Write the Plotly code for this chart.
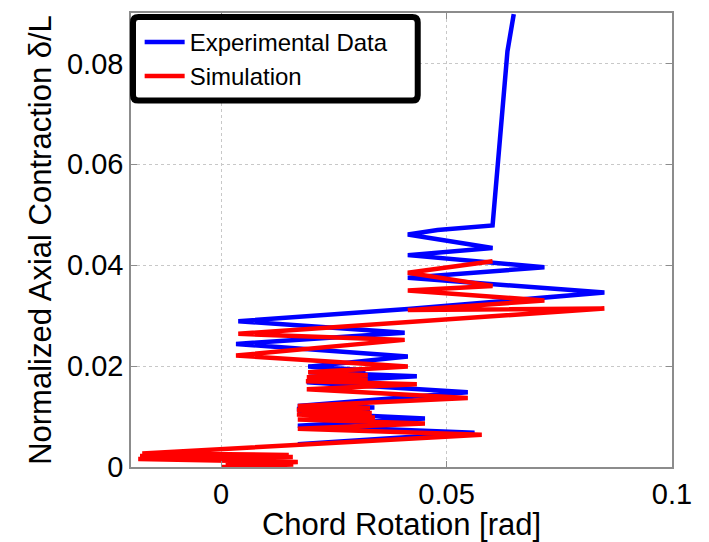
import plotly.graph_objects as go

# Experimental data (chord rotation [rad], normalized axial contraction)
exp_rotation = [0.0170, 0.0562, 0.0170, 0.0452, 0.0170, 0.0330, 0.0168, 0.0340,
                0.0170, 0.0547, 0.0190, 0.0434, 0.0195, 0.0320, 0.0193, 0.0414,
                0.0033, 0.0407, 0.0038, 0.0414, 0.0850, 0.0414, 0.0717, 0.0414,
                0.0602, 0.0414, 0.0480, 0.0602, 0.0635, 0.0649]
exp_contraction = [0.0045, 0.0068, 0.0082, 0.0096, 0.0108, 0.0110, 0.0115, 0.0118,
                   0.0121, 0.0148, 0.0168, 0.0180, 0.0188, 0.0192, 0.0199, 0.0219,
                   0.0244, 0.0266, 0.0289, 0.0313, 0.0346, 0.0375, 0.0396, 0.0420,
                   0.0434, 0.0461, 0.0470, 0.0479, 0.0824, 0.0898]

# Simulation
sim_rotation = [0.0, 0.0160, 0.0010, 0.0170, -0.0184, 0.0159, -0.0180, 0.0150, -0.0175,
                0.0578, 0.0170, 0.0452, 0.0170,
                0.0341, 0.0168, 0.0334, 0.0168, 0.0330, 0.0170, 0.0547, 0.0190,
                0.0434, 0.0188, 0.0325, 0.0190, 0.0325, 0.0193, 0.0414, 0.0033,
                0.0407, 0.0038, 0.0850, 0.0414, 0.0717, 0.0414, 0.0602, 0.0414, 0.0602]
sim_contraction = [0.0, 0.0005, 0.0004, 0.0010, 0.0016, 0.0020, 0.0022, 0.0024, 0.0027,
                   0.0064, 0.0076, 0.0086, 0.0094,
                   0.0098, 0.0104, 0.0107, 0.0113, 0.0117, 0.0121, 0.0137, 0.0154,
                   0.0164, 0.0170, 0.0174, 0.0178, 0.0182, 0.0188, 0.0199, 0.0221,
                   0.0252, 0.0264, 0.0314, 0.0311, 0.0330, 0.0350, 0.0359, 0.0385, 0.0408]

x_ticks = [0, 0.05, 0.1]
x_tick_labels = ["0", "0.05", "0.1"]
y_ticks = [0, 0.02, 0.04, 0.06, 0.08]
y_tick_labels = ["0", "0.02", "0.04", "0.06", "0.08"]

FONT = "Liberation Sans, Arial, sans-serif"

fig = go.Figure()
fig.add_trace(go.Scatter(x=exp_rotation, y=exp_contraction, mode="lines",
                         name="Experimental Data",
                         line=dict(color="#0000ff", width=4.5)))
fig.add_trace(go.Scatter(x=sim_rotation, y=sim_contraction, mode="lines",
                         name="Simulation",
                         line=dict(color="#ff0000", width=4.5)))

axis_common = dict(
    showline=True, linecolor="#8c8c8c", linewidth=1.5, mirror="allticks",
    ticks="inside", ticklen=6, tickcolor="#8c8c8c",
    showgrid=True, gridcolor="#c8c8c8", griddash="dot", gridwidth=1,
    zeroline=False,
    tickfont=dict(family=FONT, size=29, color="black"),
)

# rounded legend frame (paper coordinates)
x0, x1, y0, y1 = 0.0037, 0.530, 0.807, 0.991
rx, ry = 0.010, 0.012
frame_path = (f"M {x0+rx},{y1} L {x1-rx},{y1} Q {x1},{y1} {x1},{y1-ry} "
              f"L {x1},{y0+ry} Q {x1},{y0} {x1-rx},{y0} L {x0+rx},{y0} "
              f"Q {x0},{y0} {x0},{y0+ry} L {x0},{y1-ry} Q {x0},{y1} {x0+rx},{y1} Z")

fig.update_layout(
    width=709, height=542,
    margin=dict(l=131, r=37, t=11, b=70),
    paper_bgcolor="white", plot_bgcolor="white",
    font=dict(family=FONT, color="black"),
    xaxis=dict(range=[-0.02, 0.1], tickvals=x_ticks, ticktext=x_tick_labels,
               title=dict(text="Chord Rotation [rad]", font=dict(size=31, family=FONT),
                          standoff=0),
               **axis_common),
    yaxis=dict(range=[0, 0.09], tickvals=y_ticks, ticktext=y_tick_labels,
               title=dict(text="Normalized Axial Contraction δ/L",
                          font=dict(size=31, family=FONT), standoff=6),
               **axis_common),
    shapes=[dict(type="path", xref="paper", yref="paper", path=frame_path,
                 fillcolor="white", line=dict(color="black", width=6),
                 layer="above")],
    legend=dict(x=0.016, y=0.985, xanchor="left", yanchor="top",
                bgcolor="rgba(0,0,0,0)", borderwidth=0,
                font=dict(family=FONT, size=24, color="black"),
                itemwidth=40),
    showlegend=True,
)

fig.write_html("out.html")
